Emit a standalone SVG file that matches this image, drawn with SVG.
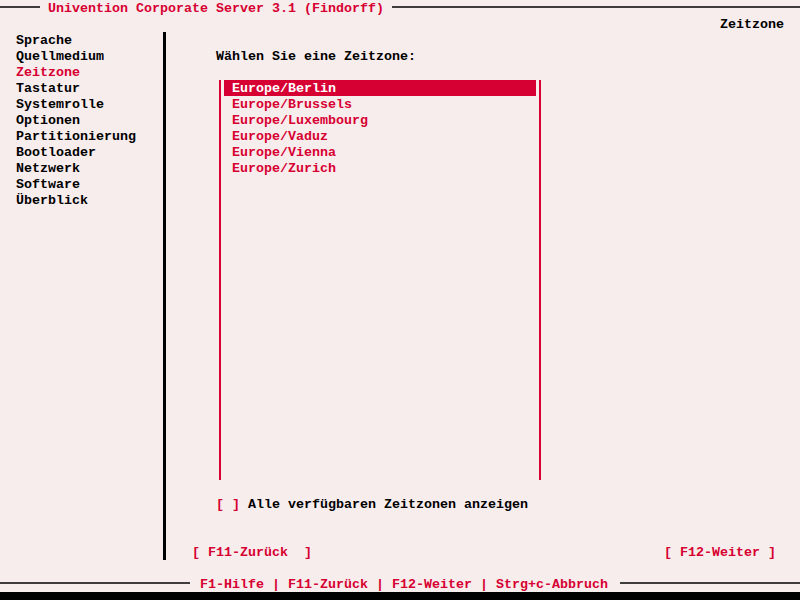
<svg xmlns="http://www.w3.org/2000/svg" width="800" height="600" viewBox="0 0 800 600">
<style>
text{font-family:"Liberation Mono","DejaVu Sans Mono",monospace;font-size:13.33px;font-weight:bold;white-space:pre}
.r{fill:#d70032}
.k{fill:#000}
.w{fill:#fff}
.ln{stroke:#000;stroke-width:1.5}
</style>
<rect width="800" height="600" fill="#f7eded"/>
<g id="top-bar">
<line class="ln" x1="0" y1="7" x2="40" y2="7"/>
<text class="r" x="48" y="12">Univention Corporate Server 3.1 (Findorff)</text>
<line class="ln" x1="392" y1="7" x2="800" y2="7"/>
<text class="k" x="720" y="28">Zeitzone</text>
</g>
<g id="sidebar">
<text class="k" x="16" y="44">Sprache</text>
<text class="k" x="16" y="60">Quellmedium</text>
<text class="r" x="16" y="76">Zeitzone</text>
<text class="k" x="16" y="92">Tastatur</text>
<text class="k" x="16" y="108">Systemrolle</text>
<text class="k" x="16" y="124">Optionen</text>
<text class="k" x="16" y="140">Partitionierung</text>
<text class="k" x="16" y="156">Bootloader</text>
<text class="k" x="16" y="172">Netzwerk</text>
<text class="k" x="16" y="188">Software</text>
<text class="k" x="16" y="204">Überblick</text>
<rect x="163" y="32" width="3" height="528" fill="#000"/>
</g>
<g id="content">
<text class="k" x="216" y="60">Wählen Sie eine Zeitzone:</text>
</g>
<g id="list">
<rect x="219" y="80" width="2" height="400" class="r"/>
<rect x="539" y="80" width="2" height="400" class="r"/>
<rect x="224" y="80" width="312" height="16" class="r"/>
<text class="w" x="232" y="92">Europe/Berlin</text>
<text class="r" x="232" y="108">Europe/Brussels</text>
<text class="r" x="232" y="124">Europe/Luxembourg</text>
<text class="r" x="232" y="140">Europe/Vaduz</text>
<text class="r" x="232" y="156">Europe/Vienna</text>
<text class="r" x="232" y="172">Europe/Zurich</text>
</g>
<g id="checkbox">
<text class="r" x="216" y="508">[ ]</text>
<text class="k" x="248" y="508">Alle verfügbaren Zeitzonen anzeigen</text>
</g>
<g id="buttons">
<text class="r" x="192" y="556">[ F11-Zurück  ]</text>
<text class="r" x="664" y="556">[ F12-Weiter ]</text>
</g>
<g id="bottom-bar">
<line class="ln" x1="0" y1="583" x2="190" y2="583"/>
<text class="r" x="200" y="588">F1-Hilfe | F11-Zurück | F12-Weiter | Strg+c-Abbruch</text>
<line class="ln" x1="620" y1="583" x2="800" y2="583"/>
<rect x="0" y="592" width="800" height="8" fill="#000"/>
</g>
</svg>
